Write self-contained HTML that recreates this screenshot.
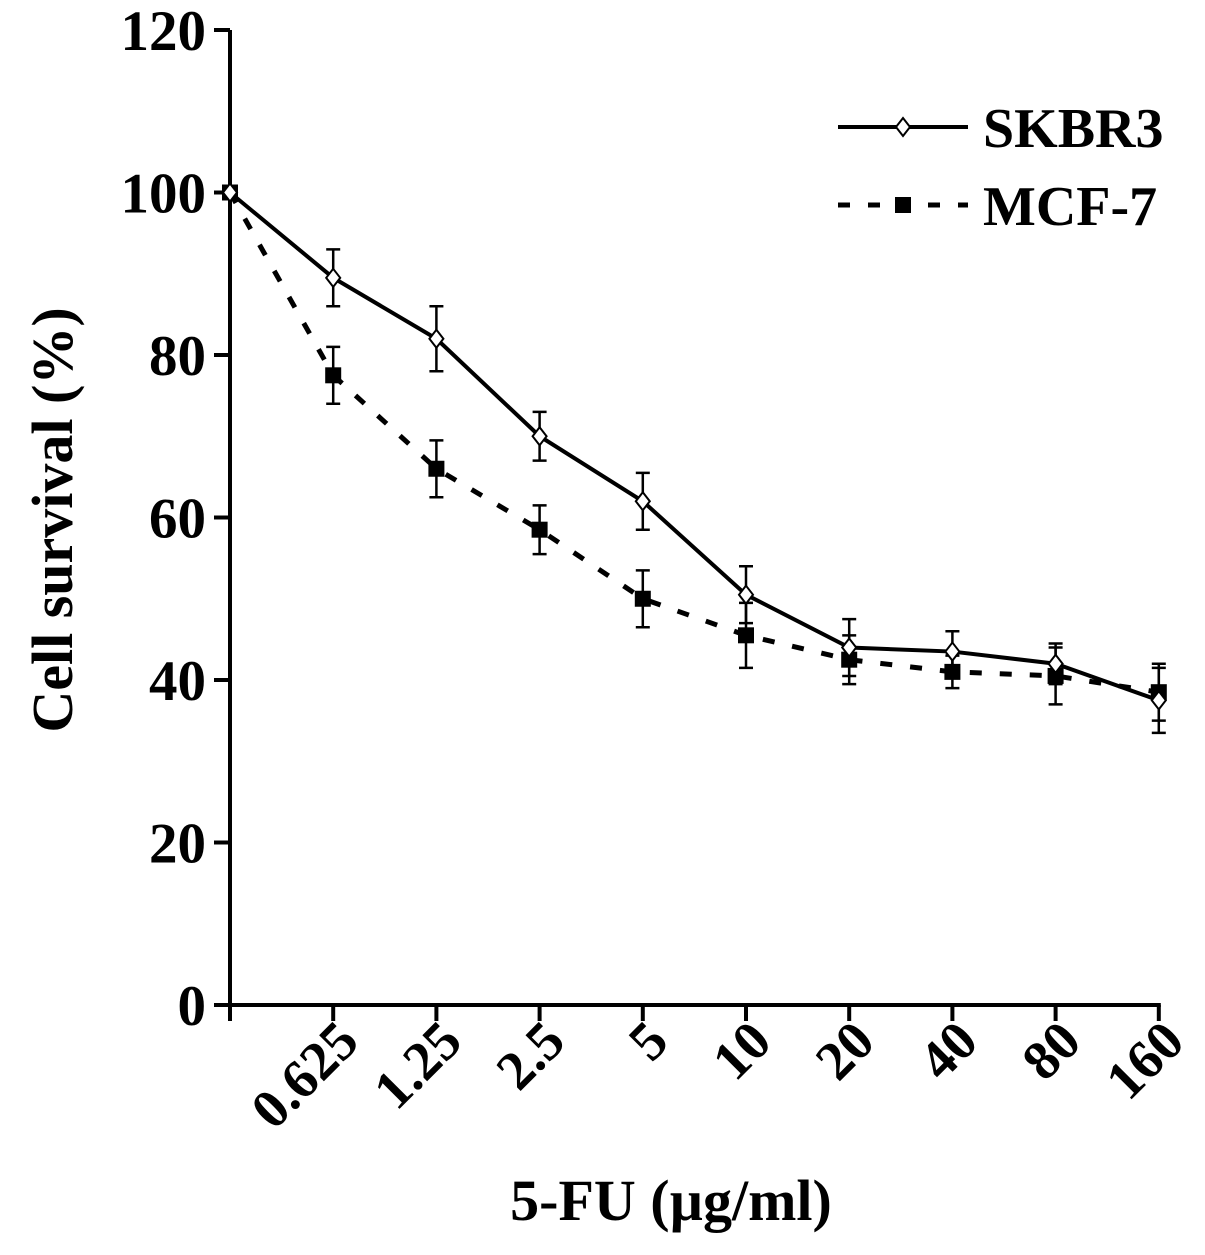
<!DOCTYPE html>
<html><head><meta charset="utf-8"><style>
body{margin:0;background:#fff}
text{font-family:"Liberation Serif",serif;font-weight:bold;fill:#000}
</style></head><body>
<svg id="chart" width="1205" height="1250" xmlns="http://www.w3.org/2000/svg">
<g id="axes"></g><g id="series"></g>
<g>
<line x1="838" y1="127" x2="968" y2="127" stroke="#000" stroke-width="4"/>
<path d="M903 118 L910 127 L903 136 L896 127 Z" fill="#fff" stroke="#000" stroke-width="2"/>
<text x="983" y="147" font-size="56">SKBR3</text>
<line x1="838" y1="205" x2="968" y2="205" stroke="#000" stroke-width="5" stroke-dasharray="12,18"/>
<rect x="895" y="197" width="16" height="16" fill="#000"/>
<text x="983" y="225" font-size="56">MCF-7</text>
</g>
<text transform="translate(72,520) rotate(-90)" text-anchor="middle" font-size="58">Cell survival (%)</text>
<text x="671" y="1220" text-anchor="middle" font-size="58">5-FU (µg/ml)</text>
</svg>
<script>
const categories=["0","0.625","1.25","2.5","5","10","20","40","80","160"];
const skbr3=[100,89.5,82,70,62,50.5,44,43.5,42,37.5];
const skbr3Err=[0,3.5,4,3,3.5,3.5,3.5,2.5,2.5,4];
const mcf7=[100,77.5,66,58.5,50,45.5,42.5,41,40.5,38.5];
const mcf7Err=[0,3.5,3.5,3,3.5,4,3,2,3.5,3.5];
const yTicks=[0,20,40,60,80,100,120];
const NS="http://www.w3.org/2000/svg";
const X=i=>230+i*103.2;
const Y=v=>1005-v*(975/120);
function mk(tag,attrs,parent,txt){const e=document.createElementNS(NS,tag);for(const k in attrs)e.setAttribute(k,attrs[k]);if(txt!==undefined)e.textContent=txt;parent.appendChild(e);return e;}
const ax=document.getElementById('axes');
let e=mk('line',{x1:230,y1:Y(120),x2:230,y2:1005,stroke:'#000','stroke-width':4},ax);


e=mk('line',{x1:228,y1:1005,x2:X(9)+2,y2:1005,stroke:'#000','stroke-width':4},ax);


yTicks.forEach(v=>{
 mk('line',{x1:214,y1:Y(v),x2:230,y2:Y(v),stroke:'#000','stroke-width':4},ax);
 const t=mk('text',{x:206,y:Y(v)+20,'text-anchor':'end','font-size':57},ax,String(v));
 
 
});
categories.forEach((c,i)=>{
 mk('line',{x1:X(i),y1:1005,x2:X(i),y2:1021,stroke:'#000','stroke-width':4},ax);
 if(i>0){const t=mk('text',{transform:`translate(${X(i)+28},${1044}) rotate(-45)`,'text-anchor':'end','font-size':55},ax,c);
 
 }
});
const sg=document.getElementById('series');
function series(vals,errs,dash,marker,name){
 const g=mk('g',{},sg);
 
 
 const pts=vals.map((v,i)=>X(i)+','+Y(v)).join(' ');
 mk('polyline',{points:pts,fill:'none',stroke:'#000','stroke-width':dash?5:4,'stroke-dasharray':dash||'none'},g);
 vals.forEach((v,i)=>{
  if(errs[i]>0){const x=X(i),t=Y(v+errs[i]),b=Y(v-errs[i]);
   mk('path',{d:`M${x} ${t}V${b}M${x-7} ${t}H${x+7}M${x-7} ${b}H${x+7}`,stroke:'#000','stroke-width':2.5,fill:'none'},g);}
  let m;
  if(marker==='d') m=mk('path',{d:`M${X(i)} ${Y(v)-9}L${X(i)+7} ${Y(v)}L${X(i)} ${Y(v)+9}L${X(i)-7} ${Y(v)}Z`,fill:'#fff',stroke:'#000','stroke-width':2},g);
  else m=mk('rect',{x:X(i)-8,y:Y(v)-8,width:16,height:16,fill:'#000'},g);
  
  
 });
}
series(mcf7,mcf7Err,'12,18','s','mcf7-series');
series(skbr3,skbr3Err,null,'d','skbr3-series');
</script>
</body></html>
